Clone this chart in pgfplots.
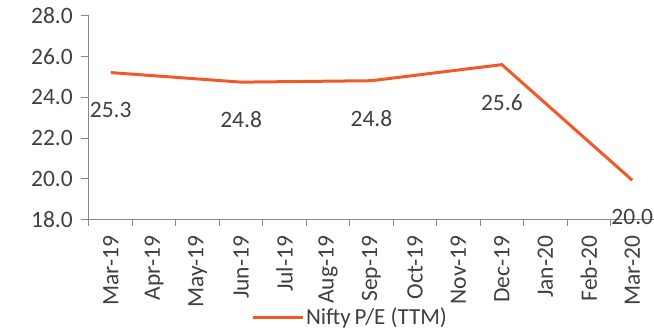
\documentclass[border=0pt]{standalone}
\usepackage{pgfplots}
\pgfplotsset{compat=1.18}
\usepackage{fontspec}
\setmainfont{Carlito}
\definecolor{txt}{HTML}{404040}
\definecolor{axgray}{HTML}{878787}
\definecolor{lineor}{HTML}{F05A28}
\begin{document}
\fontsize{24}{28}\selectfont
\begin{tikzpicture}
\begin{axis}[
  scale only axis,
  width=565pt, height=203.5pt,
  at={(0,0)}, anchor=south west,
  xmin=-0.5, xmax=12.5,
  ymin=18, ymax=28,
  axis x line*=bottom, axis y line*=left,
  axis line style={axgray, line width=1pt},
  every tick/.style={axgray, line width=1pt},
  tick align=outside,
  xtick={0,...,12},
  xticklabels={Mar-19,Apr-19,May-19,Jun-19,Jul-19,Aug-19,Sep-19,Oct-19,Nov-19,Dec-19,Jan-20,Feb-20,Mar-20},
  major x tick style={draw=none},
  minor xtick={-0.5,0.5,...,12.5},
  minor tick length=6pt,
  ytick={18,20,...,28},
  major tick length=8pt,
  xticklabel style={yshift=-8pt, rotate=90, anchor=east, text=txt, font=\fontsize{23.5}{28}\selectfont, inner sep=0pt},
  yticklabel style={text=txt, font=\fontsize{23.5}{28}\selectfont, /pgf/number format/.cd, fixed, fixed zerofill, precision=1},
  /pgf/number format/assume math mode=true,
  legend style={draw=none, fill=none, at={(0.462,-0.484)}, anchor=center, font=\fontsize{23}{28}\selectfont, text=txt},
  legend image code/.code={\draw[#1] (0pt,0pt) -- (50pt,0pt);},
  nodes near coords={\pgfmathprintnumber[fixed,fixed zerofill,precision=1,assume math mode=true]{\pgfplotspointmeta}},
  every node near coord/.append style={anchor=north, yshift=-28pt, inner sep=0pt, text=txt, font=\fontsize{23.5}{28}\selectfont},
]
\addplot[lineor, line width=3pt, point meta=explicit] coordinates {
  (0,25.22) [25.3]
  (3,24.75) [24.8]
  (6,24.82) [24.8]
  (9,25.61) [25.6]
  (12,19.93) [20.0]
};
\addlegendentry{Nifty\,P/E (TTM)}
\end{axis}
\pgfresetboundingbox
\path[use as bounding box] (-89pt,-112.5pt) rectangle (565pt,219.5pt);
\end{tikzpicture}
\end{document}
